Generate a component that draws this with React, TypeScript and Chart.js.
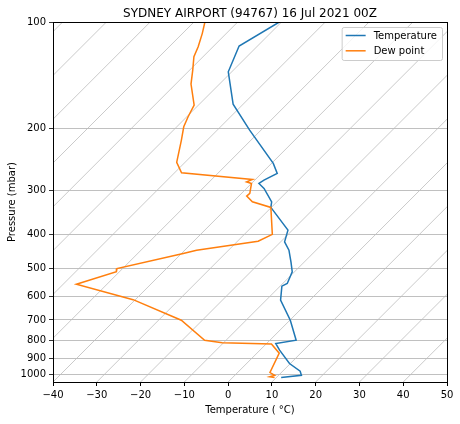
import { useEffect, useRef } from "react";
import { Chart, registerables } from "chart.js";

Chart.register(...registerables);

const TITLE = "SYDNEY AIRPORT (94767) 16 Jul 2021 00Z";
const X_TITLE = "Temperature ( \u00b0C)";
const Y_TITLE = "Pressure (mbar)";

const P_TOP = 100;
const P_BOTTOM = 1050;
const T_MIN = -40;
const T_MAX = 50;
// Skew of isotherms: degrees C shifted over the full height of the plot (45 deg on screen)
const SKEW = 82.2;

const PRESSURE_TICKS = [100, 200, 300, 400, 500, 600, 700, 800, 900, 1000];
const ISOTHERMS = [-120, -110, -100, -90, -80, -70, -60, -50, -40, -30, -20, -10, 0, 10, 20, 30, 40];

const TEMP_PRESSURE = [100, 117, 138.4, 171, 202.6, 251.8, 268.9, 280.9, 287, 296.5, 323.6, 335.7, 389.5, 420.4, 443.9, 480, 511.4, 551.6, 561.5, 615.3, 701.4, 799.2, 816.6, 853.1, 930.6, 978.7, 1004.6, 1019.8];
const TEMPERATURE = [-70.5, -74.2, -70.8, -62.3, -52.6, -39.6, -36.4, -37.9, -38.3, -36.0, -31.2, -30.1, -21.0, -19.1, -16.2, -13.0, -10.5, -9.0, -9.6, -6.7, 0.1, 6.0, 2.1, 4.5, 9.8, 14.0, 15.2, 11.1];

const DEW_PRESSURE = [100, 107.7, 117.5, 125.4, 136.9, 150, 172, 185.7, 198.3, 216.3, 250.1, 267.8, 279.6, 284, 287, 306.4, 311.8, 323.6, 335.7, 400.4, 418.5, 443.9, 453.5, 500.3, 510.9, 554.2, 613.3, 701.4, 799.2, 812.3, 818.7, 869.9, 987, 1004.6, 1015, 1020];
const DEWPOINT = [-87.5, -85.5, -83.4, -82.1, -79.3, -76.5, -71.0, -69.7, -68.4, -65.9, -61.9, -58.4, -40.7, -41.5, -40.0, -38.1, -38.2, -35.6, -30.1, -23.6, -25.3, -37.3, -39.6, -51.3, -50.7, -57.0, -40.5, -24.8, -14.9, -10.3, 1.2, 5.1, 7.4, 9.1, 8.3, 9.6];

const FONT = "'DejaVu Sans', sans-serif";
const BLUE = "#1f77b4";
const ORANGE = "#ff7f0e";

const skewX = (t: number, p: number) =>
  t + (SKEW * Math.log(P_BOTTOM / p)) / Math.log(P_BOTTOM / P_TOP);

const minus = (s: string) => s.replace(/-/g, "\u2212");

const framePlugin = {
  id: "frameTitleLegend",
  afterDraw(chart: any) {
    const ctx = chart.ctx as CanvasRenderingContext2D;
    const { left, right, top, bottom } = chart.chartArea;
    ctx.save();
    // frame
    ctx.strokeStyle = "#000";
    ctx.lineWidth = 1;
    const l = Math.floor(left) + 0.5;
    const t = Math.floor(top) + 0.5;
    const r = Math.floor(right) + 0.5;
    const b = Math.floor(bottom) + 0.5;
    ctx.strokeRect(l, t, r - l, b - t);

    // title
    ctx.fillStyle = "#000";
    ctx.font = `12px ${FONT}`;
    ctx.textAlign = "center";
    ctx.textBaseline = "alphabetic";
    ctx.fillText(TITLE, (left + right) / 2, top - 5);

    // legend
    const items = [
      { label: "Temperature", color: BLUE },
      { label: "Dew point", color: ORANGE },
    ];
    ctx.font = `10px ${FONT}`;
    const textW = Math.max(...items.map((i) => ctx.measureText(i.label).width));
    const pad = 4;
    const handle = 20;
    const gap = 8;
    const rowH = 15.3;
    const bw = pad + handle + gap + textW + pad + 1;
    const bh = 33;
    const bx = right - 5 - bw;
    const by = top + 5;
    ctx.beginPath();
    if ((ctx as any).roundRect) (ctx as any).roundRect(bx + 0.5, by + 0.5, bw, bh, 2);
    else ctx.rect(bx + 0.5, by + 0.5, bw, bh);
    ctx.fillStyle = "rgba(255,255,255,0.8)";
    ctx.fill();
    ctx.strokeStyle = "#cccccc";
    ctx.lineWidth = 1;
    ctx.stroke();
    items.forEach((it, i) => {
      const y = by + 8.5 + i * rowH;
      ctx.strokeStyle = it.color;
      ctx.lineWidth = 1.5;
      ctx.beginPath();
      ctx.moveTo(bx + pad, y);
      ctx.lineTo(bx + pad + handle, y);
      ctx.stroke();
      ctx.fillStyle = "#000";
      ctx.textAlign = "left";
      ctx.textBaseline = "middle";
      ctx.fillText(it.label, bx + pad + handle + gap, y + 0.5);
    });
    ctx.restore();
  },
};

export default function App() {
  const ref = useRef<HTMLCanvasElement>(null);

  useEffect(() => {
    if (!ref.current) return;
    const datasets: any[] = [
      {
        label: "Dew point",
        data: DEW_PRESSURE.map((p, i) => ({ x: skewX(DEWPOINT[i], p), y: p })),
        borderColor: ORANGE,
        borderWidth: 1.5,
        pointRadius: 0,
        fill: false,
        order: 0,
        clip: 0,
      },
      {
        label: "Temperature",
        data: TEMP_PRESSURE.map((p, i) => ({ x: skewX(TEMPERATURE[i], p), y: p })),
        borderColor: BLUE,
        borderWidth: 1.5,
        pointRadius: 0,
        fill: false,
        order: 1,
        clip: 0,
      },
      ...ISOTHERMS.map((t) => ({
        label: "",
        data: [
          { x: skewX(t, P_BOTTOM), y: P_BOTTOM },
          { x: skewX(t, P_TOP), y: P_TOP },
        ],
        borderColor: "#bdbdbd",
        borderWidth: 0.8,
        pointRadius: 0,
        fill: false,
        order: 2,
        clip: 0,
      })),
    ];

    const chart = new Chart(ref.current, {
      type: "line",
      data: { datasets },
      plugins: [framePlugin],
      options: {
        responsive: false,
        animation: false,
        events: [],
        layout: { padding: { left: 0, right: 13, top: 22, bottom: 0 } },
        plugins: {
          legend: { display: false },
          title: { display: false },
          tooltip: { enabled: false },
        },
        scales: {
          x: {
            type: "linear",
            min: T_MIN,
            max: T_MAX,
            afterFit: (s: any) => {
              s.height = 42;
            },
            ticks: {
              stepSize: 10,
              color: "#000",
              padding: 3,
              font: { family: FONT, size: 10 },
              callback: (v: any) => minus(String(v)),
            },
            grid: {
              drawOnChartArea: false,
              drawTicks: true,
              tickLength: 4,
              tickColor: "#000",
            },
            border: { display: false },
            title: {
              display: true,
              text: X_TITLE,
              color: "#000",
              font: { family: FONT, size: 10 },
              padding: { top: 0, bottom: 8 },
            },
          },
          y: {
            type: "logarithmic",
            reverse: true,
            min: P_TOP,
            max: P_BOTTOM,
            afterFit: (s: any) => {
              s.width = 53;
            },
            afterBuildTicks: (s: any) => {
              s.ticks = PRESSURE_TICKS.map((v) => ({ value: v }));
            },
            ticks: {
              color: "#000",
              padding: 3,
              autoSkip: false,
              font: { family: FONT, size: 10 },
              callback: (v: any) => String(v),
            },
            grid: {
              color: "#b0b0b0",
              lineWidth: 0.8,
              tickLength: 4,
              tickColor: "#000",
            },
            border: { display: false },
            title: {
              display: true,
              text: Y_TITLE,
              color: "#000",
              font: { family: FONT, size: 10 },
              padding: { top: 6, bottom: 0 },
            },
          },
        },
      } as any,
    });
    return () => chart.destroy();
  }, []);

  return (
    <div style={{ position: "absolute", left: 0, top: 0, width: 460, height: 424, background: "#fff" }}>
      <canvas ref={ref} width={460} height={424} style={{ display: "block" }} />
    </div>
  );
}
